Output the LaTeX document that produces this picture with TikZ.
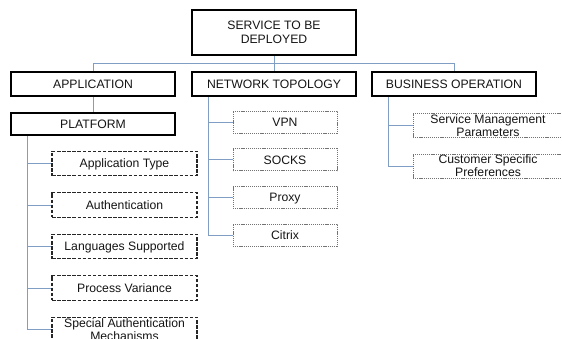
\documentclass[tikz,border=0pt]{standalone}
\usepackage{fontspec}
\setmainfont{Liberation Sans}
\usetikzlibrary{calc}
\definecolor{linkblue}{RGB}{128,158,196}
\definecolor{txtgray}{RGB}{20,20,20}
\newcommand\fixtxt[2]{\raisebox{#1}[0pt][0pt]{\fontsize{12.2}{13}\selectfont\begin{tabular}[t]{@{}c@{}}#2\end{tabular}}}
\tikzset{
  basebox/.style={rectangle, inner sep=0pt, text=txtgray, font=\fontsize{12.2}{14}\selectfont},
  capline/.style={text height=8.7pt, text depth=0pt},
  mainbox/.style={basebox, capline, draw=black, line width=1.7pt, minimum width=164pt, minimum height=24pt},
  appbox/.style={basebox, capline, draw=black!85, line width=1.2pt, dash pattern=on 3.5pt off 1.6pt, minimum width=145pt, minimum height=24.5pt},
  netbox/.style={basebox, capline, draw=black!55, line width=0.8pt, dash pattern=on 1.2pt off 0.9pt, minimum width=104pt, minimum height=22pt},
  busbox/.style={netbox, minimum width=150pt, minimum height=24pt},
  link/.style={draw=linkblue, line width=0.9pt}
}
\begin{document}
\begin{tikzpicture}[x=1pt,y=-1pt]
\useasboundingbox (0,0) rectangle (562,339);
\clip (0,0) rectangle (562,339);
% main boxes
\node[basebox, draw=black, line width=1.7pt, minimum width=164pt, minimum height=45pt, align=center] (top) at (274,32.5) {SERVICE TO BE\\DEPLOYED};
\node[mainbox] (app) at (93,84) {APPLICATION};
\node[mainbox] (net) at (274,84) {NETWORK TOPOLOGY};
\node[mainbox] (bus) at (454,84) {BUSINESS OPERATION};
\node[mainbox, minimum height=22pt] (plat) at (93,124) {PLATFORM};
% application sub boxes
\node[appbox] (a1) at (124.5,163.5) {Application Type};
\node[appbox] (a2) at (124.5,205) {Authentication};
\node[appbox] (a3) at (124.5,246.5) {Languages Supported};
\node[appbox] (a4) at (124.5,288) {Process Variance};
\node[appbox] (a5) at (124.5,329.5) {\fixtxt{6.8pt}{Special Authentication\\Mechanisms}};
% network sub boxes
\node[netbox] (n1) at (285,122) {VPN};
\node[netbox] (n2) at (285,159.7) {SOCKS};
\node[netbox] (n3) at (285,197.4) {Proxy};
\node[netbox] (n4) at (285,235.1) {Citrix};
% business sub boxes
\node[busbox] (b1) at (488,125) {\fixtxt{6.3pt}{Service Management\\Parameters}};
\node[busbox] (b2) at (488,166) {\fixtxt{6.6pt}{Customer Specific\\Preferences}};
% connectors
\coordinate (hub) at ($(top.south)!0.5!(net.north)$);
\draw[link] (top.south) -- (net.north);
\draw[link] (app.north) |- (hub) -| (bus.north);
\draw[link] (app.south) -- (plat.north);
\coordinate (pt) at ([xshift=17pt]plat.south west);
\draw[link] (pt) |- (a5.west);
\foreach \n in {a1,a2,a3,a4} \draw[link] (pt |- \n.west) -- (\n.west);
\coordinate (nt) at ([xshift=17pt]net.south west);
\draw[link] (nt) |- (n4.west);
\foreach \n in {n1,n2,n3} \draw[link] (nt |- \n.west) -- (\n.west);
\coordinate (bt) at ([xshift=17pt]bus.south west);
\draw[link] (bt) |- (b2.west);
\draw[link] (bt |- b1.west) -- (b1.west);
\end{tikzpicture}
\end{document}
